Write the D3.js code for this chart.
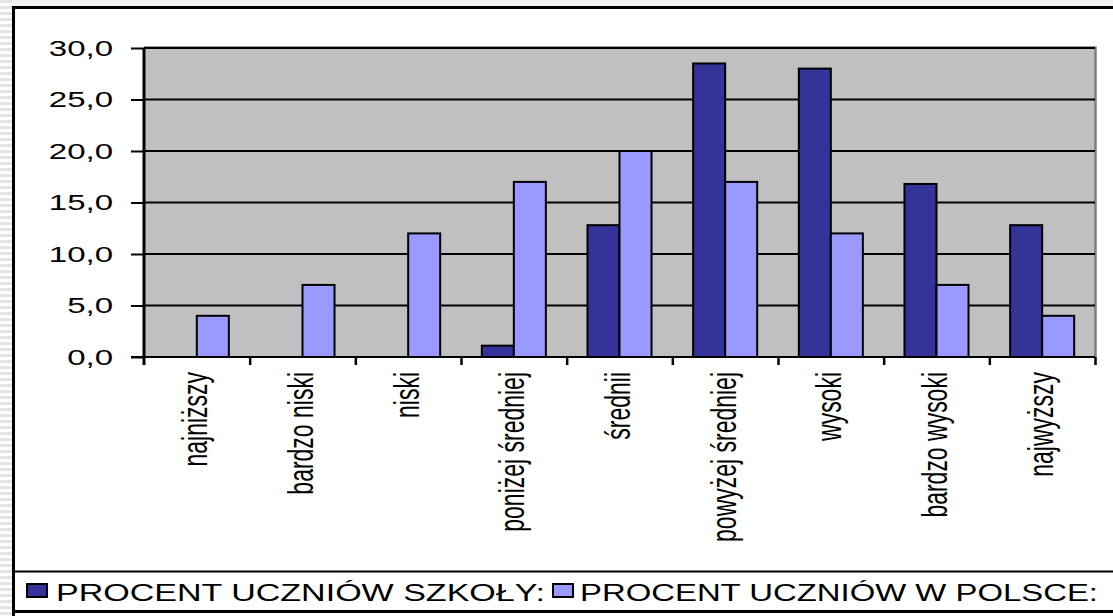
<!DOCTYPE html>
<html>
<head>
<meta charset="utf-8">
<script src="https://cdn.jsdelivr.net/npm/d3@7"></script>
<style>
  body { margin: 0; background: #ffffff; }
  text { font-family: Arial, "Liberation Sans", sans-serif; fill: #000; }
</style>
</head>
<body>
<div id="main"></div>
<script>
// data
var categories = ["najniższy", "bardzo niski", "niski", "poniżej średniej", "średnii",
                  "powyżej średniej", "wysoki", "bardzo wysoki", "najwyższy"];
var szkola = [0, 0, 0, 1.1, 12.8, 28.5, 28.0, 16.8, 12.8];
var polska = [4, 7, 12, 17, 20, 17, 12, 7, 4];
var seriesNames = ["PROCENT UCZNIÓW SZKOŁY:", "PROCENT UCZNIÓW W POLSCE:"];
var seriesColors = ["#333399", "#9999ff"];
var yTicks = [0, 5, 10, 15, 20, 25, 30];

var dimensions = {
  width: 1113,
  height: 616,
  plot: { left: 144, right: 1095, top: 48, bottom: 357 }
};

var svg = d3.select("#main")
  .append("svg")
    .attr("width", dimensions.width)
    .attr("height", dimensions.height);

// striped strip on the far left (behind the frame)
var stripes = svg.append("g");
d3.range(0, dimensions.height, 6).forEach(function(y) {
  stripes.append("rect")
    .attr("x", 0).attr("y", y)
    .attr("width", 12).attr("height", 3)
    .attr("fill", "#e4e4e4");
});
svg.append("rect")
  .attr("x", 12).attr("y", 0)
  .attr("width", dimensions.width).attr("height", 6)
  .attr("fill", "#f2f2f2");

// outer frame
svg.append("line")
  .attr("x1", 13.5).attr("x2", 13.5)
  .attr("y1", 6).attr("y2", dimensions.height)
  .attr("stroke", "#000").attr("stroke-width", 3);
svg.append("line")
  .attr("x1", 12).attr("x2", dimensions.width)
  .attr("y1", 7.5).attr("y2", 7.5)
  .attr("stroke", "#000").attr("stroke-width", 3);

var x = d3.scaleBand()
  .domain(categories)
  .range([dimensions.plot.left, dimensions.plot.right])
  .paddingInner(0).paddingOuter(0);

var x1 = d3.scaleBand()
  .domain([0, 1])
  .range([0, x.bandwidth()])
  .paddingInner(0).paddingOuter(0.65);

var y = d3.scaleLinear()
  .domain([0, 30])
  .range([dimensions.plot.bottom, dimensions.plot.top]);

// plot background
svg.append("rect")
  .attr("x", dimensions.plot.left)
  .attr("y", dimensions.plot.top)
  .attr("width", dimensions.plot.right - dimensions.plot.left)
  .attr("height", dimensions.plot.bottom - dimensions.plot.top)
  .attr("fill", "#c0c0c0");
svg.append("path")
  .attr("d", "M" + dimensions.plot.left + "," + (dimensions.plot.top - 0.5) +
             "H" + (dimensions.plot.right + 0.5) + "V" + dimensions.plot.bottom)
  .attr("fill", "none").attr("stroke", "#808080").attr("stroke-width", 2.5);

// gridlines
svg.append("g")
  .selectAll("line")
  .data(yTicks.filter(function(d) { return d > 0; }))
  .enter()
  .append("line")
    .attr("x1", dimensions.plot.left)
    .attr("x2", dimensions.plot.right)
    .attr("y1", function(d) { return y(d); })
    .attr("y2", function(d) { return y(d); })
    .attr("stroke", "#000").attr("stroke-width", 2);

// bars
var rows = categories.map(function(c, i) { return { cat: c, vals: [szkola[i], polska[i]] }; });
var groups = svg.append("g")
  .selectAll("g")
  .data(rows)
  .enter()
  .append("g")
    .attr("transform", function(d) { return "translate(" + x(d.cat) + ",0)"; });

groups.selectAll("rect")
  .data(function(d) { return d.vals.map(function(v, k) { return { k: k, v: v }; }); })
  .enter()
  .filter(function(d) { return d.v > 0; })
  .append("rect")
    .attr("x", function(d) { return x1(d.k); })
    .attr("y", function(d) { return y(d.v); })
    .attr("width", x1.bandwidth())
    .attr("height", function(d) { return y(0) - y(d.v); })
    .attr("fill", function(d) { return seriesColors[d.k]; })
    .attr("stroke", "#000")
    .attr("stroke-width", 2);

// y axis
var yAxis = svg.append("g")
  .attr("transform", "translate(" + dimensions.plot.left + ",0)")
  .call(d3.axisLeft(y)
    .tickValues(yTicks)
    .tickSize(13)
    .tickFormat(function(d) { return d3.format(".1f")(d).replace(".", ","); }));
yAxis.select(".domain").remove();
yAxis.append("line")
  .attr("x1", 0).attr("x2", 0)
  .attr("y1", dimensions.plot.top).attr("y2", dimensions.plot.bottom + 8)
  .attr("stroke", "#000").attr("stroke-width", 3);
yAxis.selectAll(".tick line").attr("stroke", "#000").attr("stroke-width", 2);
yAxis.selectAll(".tick text")
  .attr("x", 0)
  .attr("dy", "0.32em")
  .attr("transform", "translate(-31,0) scale(1.5,1)")
  .style("font-size", "22px")
  .style("text-anchor", "end");

// x axis: boundary ticks
var xb = d3.scaleLinear().domain([0, categories.length])
  .range([dimensions.plot.left, dimensions.plot.right]);
var xTicks = svg.append("g")
  .attr("transform", "translate(0," + dimensions.plot.bottom + ")")
  .call(d3.axisBottom(xb)
    .tickValues(d3.range(1, categories.length + 1))
    .tickSize(8)
    .tickFormat(""));
xTicks.select(".domain").remove();
xTicks.selectAll(".tick line").attr("stroke", "#000").attr("stroke-width", 2.5);
svg.append("line")
  .attr("x1", dimensions.plot.left - 13).attr("x2", dimensions.plot.right)
  .attr("y1", dimensions.plot.bottom).attr("y2", dimensions.plot.bottom)
  .attr("stroke", "#000").attr("stroke-width", 2);

// x axis: category labels
var xLabels = svg.append("g")
  .attr("transform", "translate(0," + dimensions.plot.bottom + ")")
  .call(d3.axisBottom(x).tickSize(0));
xLabels.select(".domain").remove();
xLabels.selectAll(".tick text")
  .attr("x", 0).attr("y", 0)
  .attr("dy", "0.3em")
  .attr("transform", "translate(0,15) scale(1.5,1) rotate(-90)")
  .style("font-size", "23px")
  .style("text-anchor", "end");

// legend box
svg.append("line")
  .attr("x1", 12).attr("x2", dimensions.width)
  .attr("y1", 571.5).attr("y2", 571.5)
  .attr("stroke", "#000").attr("stroke-width", 2);
svg.append("line")
  .attr("x1", 12).attr("x2", dimensions.width)
  .attr("y1", 611.5).attr("y2", 611.5)
  .attr("stroke", "#000").attr("stroke-width", 3);

var legendPos = [{ sq: 27, tx: 56, w: 489 }, { sq: 553, tx: 580, w: 518 }];
var legend = svg.append("g")
  .selectAll("g")
  .data(seriesNames)
  .enter()
  .append("g");
legend.append("rect")
  .attr("x", function(d, i) { return legendPos[i].sq; })
  .attr("y", 584)
  .attr("width", 20).attr("height", 13)
  .attr("fill", function(d, i) { return seriesColors[i]; })
  .attr("stroke", "#000").attr("stroke-width", 2);
legend.append("text")
  .attr("x", function(d, i) { return legendPos[i].tx; })
  .attr("y", 601)
  .attr("textLength", function(d, i) { return legendPos[i].w; })
  .attr("lengthAdjust", "spacingAndGlyphs")
  .style("font-size", "23.5px")
  .text(function(d) { return d; });
</script>
</body>
</html>
